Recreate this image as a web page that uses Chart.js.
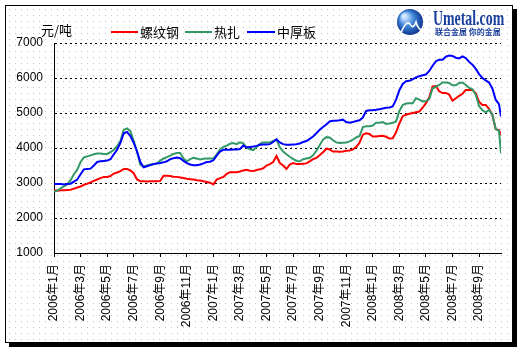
<!DOCTYPE html>
<html><head><meta charset="utf-8">
<script src="https://cdn.jsdelivr.net/npm/chart.js@4"></script>
<style>html,body{margin:0;padding:0;background:#fff;overflow:hidden}canvas{display:block}</style>
</head><body>
<canvas id="c" width="529" height="352"></canvas>
<script>
// month position (0 = 2006年1月), roughly weekly
const monthPos = [
0,0.25,0.5,0.75, 1,1.25,1.5,1.75, 2,2.25,2.5,2.75, 3,3.25,3.5,3.75,
4,4.25,4.5,4.75, 5,5.25,5.5,5.75, 6,6.25,6.5,6.75, 7,7.25,7.5,7.75,
8,8.25,8.5,8.75, 9,9.25,9.5,9.75, 10,10.25,10.5,10.75, 11,11.25,11.5,11.75,
12,12.25,12.5,12.75, 13,13.25,13.5,13.75, 14,14.25,14.5,14.75, 15,15.25,15.5,15.75,
16,16.25,16.5,16.75, 17,17.25,17.5,17.75, 18,18.25,18.5,18.75, 19,19.25,19.5,19.75,
20,20.25,20.5,20.75, 21,21.25,21.5,21.75, 22,22.25,22.5,22.75, 23,23.25,23.5,23.75,
24,24.25,24.5,24.75, 25,25.25,25.5,25.75, 26,26.25,26.5,26.75, 27,27.25,27.5,27.75,
28,28.25,28.5,28.75, 29,29.25,29.5,29.75, 30,30.25,30.5,30.75, 31,31.25,31.5,31.75,
32,32.25,32.5,32.75, 33,33.25,33.5,33.65
];
const tickLabels = ['2006年1月','2006年3月','2006年5月','2006年7月','2006年9月','2006年11月',
'2007年1月','2007年3月','2007年5月','2007年7月','2007年9月','2007年11月',
'2008年1月','2008年3月','2008年5月','2008年7月','2008年9月'];
const seriesNames = ['螺纹钢','热扎','中厚板'];
const rebar = [
2790,2780,2790,2790, 2800,2810,2840,2870, 2900,2950,2980,3020, 3060,3100,3140,3175,
3175,3200,3270,3300, 3340,3400,3400,3360, 3280,3100,3050,3050, 3040,3050,3050,3050,
3060,3210,3210,3200, 3180,3175,3160,3140, 3120,3110,3100,3080, 3070,3050,3030,3010,
2960,3100,3140,3175, 3260,3310,3310,3310, 3330,3360,3380,3350, 3340,3370,3390,3420,
3500,3540,3600,3770, 3570,3500,3400,3530, 3570,3540,3540,3550, 3560,3620,3680,3720,
3790,3880,3980,3960, 3900,3900,3890,3900, 3920,3930,3960,4030, 4150,4380,4420,4400,
4330,4330,4340,4350, 4320,4270,4280,4450, 4700,4910,4950,4980, 5000,5020,5040,5150,
5280,5450,5760,5770, 5620,5570,5570,5530, 5350,5420,5490,5550, 5660,5660,5660,5560,
5320,5230,5230,5120, 4950,4540,4510,4370
];
const hotRolled = [
2750,2780,2850,2900, 2960,3080,3250,3380, 3600,3730,3760,3790, 3820,3840,3840,3830,
3830,3880,3950,4050, 4200,4520,4560,4480, 4200,3900,3520,3470, 3500,3530,3540,3560,
3640,3700,3740,3780, 3830,3860,3860,3700, 3620,3680,3720,3700, 3670,3690,3700,3700,
3700,3820,3960,4030, 4070,4120,4140,4110, 4160,4130,4010,3960, 3940,4030,4120,4160,
4160,4160,4200,4240, 4020,3900,3820,3750, 3690,3630,3620,3680, 3700,3720,3790,3920,
4080,4240,4310,4300, 4220,4160,4140,4150, 4160,4190,4240,4300, 4340,4600,4620,4620,
4640,4720,4720,4740, 4690,4700,4720,4760, 5060,5230,5270,5280, 5280,5420,5380,5330,
5340,5400,5700,5750, 5800,5870,5870,5860, 5790,5790,5860,5870, 5800,5720,5680,5520,
5200,5080,5020,5090, 4950,4540,4490,3850
];
const plate = [
2970,2970,2970,2960, 2970,2980,3040,3100, 3250,3390,3400,3410, 3500,3600,3620,3630,
3640,3680,3820,3950, 4150,4420,4460,4340, 4150,3900,3600,3450, 3480,3510,3540,3560,
3570,3590,3620,3680, 3710,3730,3710,3630, 3570,3530,3510,3510, 3530,3560,3600,3610,
3650,3780,3900,3950, 3950,3950,3960,3960, 3970,4070,4020,4030, 4040,4060,4090,4100,
4100,4110,4170,4250, 4160,4110,4090,4090, 4100,4110,4130,4170, 4200,4260,4330,4420,
4520,4600,4670,4760, 4780,4780,4790,4810, 4740,4720,4740,4770, 4790,4870,5060,5080,
5080,5090,5110,5130, 5150,5160,5190,5380, 5650,5830,5910,5920, 5960,6020,6050,6080,
6100,6200,6350,6480, 6520,6520,6610,6640, 6630,6580,6560,6620, 6570,6460,6380,6260,
6110,6000,5930,5870, 5700,5380,5250,4900
];
const colors = ['#ff0000','#339966','#0000ff'];
const FONT = '"Liberation Sans","Noto Sans CJK SC",sans-serif';
const CJK = '"Noto Sans CJK SC",sans-serif';

const decor = {
  id:'decor',
  beforeDraw(chart){
    const ctx = chart.ctx;
    ctx.save();
    ctx.fillStyle = '#fff';
    ctx.fillRect(0,0,chart.width,chart.height);
    ctx.fillStyle = '#c4c4c4';
    for (let y = 9; y < 342; y += 6) for (let x = 9; x < 512; x += 6) ctx.fillRect(x,y,1,1);
    ctx.fillStyle = '#000';
    ctx.fillRect(513,9,4,338);
    ctx.fillRect(9,343,508,4);
    ctx.strokeStyle = '#000'; ctx.lineWidth = 1;
    ctx.strokeRect(5.5,5.5,507,337);
    ctx.restore();
  },
  afterDraw(chart){
    const ctx = chart.ctx;
    ctx.save();
    // unit title
    ctx.fillStyle = '#000';
    ctx.font = '13px ' + CJK;
    ctx.textBaseline = 'middle';
    ctx.textAlign = 'left';
    ctx.fillText('元/吨', 41, 30);
    // legend
    const pos = [[111,138,140],[185,212,214],[247,275,277]];
    chart.data.datasets.forEach((ds,i)=>{
      const p = pos[i];
      ctx.strokeStyle = ds.borderColor; ctx.lineWidth = 2;
      ctx.beginPath(); ctx.moveTo(p[0],32); ctx.lineTo(p[1],32); ctx.stroke();
      ctx.fillStyle = '#000';
      ctx.fillText(ds.label, p[2], 32);
    });
    // logo
    const g = ctx.createRadialGradient(404,16,2,410,22,14);
    g.addColorStop(0,'#cfe6ff'); g.addColorStop(0.45,'#3f86d8'); g.addColorStop(1,'#0b2f8a');
    ctx.fillStyle = g;
    ctx.beginPath(); ctx.arc(410,22,13,0,Math.PI*2); ctx.fill();
    ctx.strokeStyle = '#fff'; ctx.lineWidth = 1.6;
    ctx.beginPath(); ctx.moveTo(401,33); ctx.quadraticCurveTo(406,20,410,24); ctx.quadraticCurveTo(413,30,416,22); ctx.quadraticCurveTo(418,30,424,31); ctx.stroke();
    ctx.save();
    ctx.translate(433,25); ctx.scale(0.66,1);
    ctx.font = 'bold 21px "Liberation Serif",serif';
    ctx.fillStyle = '#1b3f9e';
    ctx.textBaseline = 'alphabetic';
    ctx.fillText('Umetal.com',0,0);
    ctx.restore();
    ctx.font = 'bold 8px ' + CJK;
    ctx.fillStyle = '#1b3f9e';
    ctx.textBaseline = 'middle';
    ctx.fillText('联合金属 你的金属', 435, 32);
    ctx.restore();
  }
};

const series = [rebar, hotRolled, plate];
new Chart(document.getElementById('c'), {
  type:'line',
  data:{
    datasets: series.map((arr,i)=>({
      label: seriesNames[i],
      data: monthPos.map((x,j)=>({x:x, y:arr[j]})),
      borderColor: colors[i],
      backgroundColor: colors[i],
      borderWidth: 2,
      pointRadius: 0,
      tension: 0,
      fill: false,
      order: 3 - i
    }))
  },
  options:{
    responsive:false,
    animation:false,
    devicePixelRatio:1,
    layout:{padding:{left:0,right:28,top:43,bottom:0}},
    plugins:{legend:{display:false},tooltip:{enabled:false}},
    scales:{
      x:{
        type:'linear', min:0, max:33.65,
        afterFit(s){ s.height = 99; },
        ticks:{stepSize:2, autoSkip:false, includeBounds:false, minRotation:90, maxRotation:90, padding:7,
          color:'#000', font:{size:12, family:FONT},
          callback:(v)=>{ const i = v/2; return (Number.isInteger(i) && tickLabels[i]) ? tickLabels[i] : ''; }},
        grid:{drawOnChartArea:false, drawTicks:true, tickLength:4, color:'#000', lineWidth:1},
        border:{display:true, color:'#000', width:1}
      },
      y:{
        min:1000, max:7000,
        afterFit(s){ s.width = 54; },
        ticks:{stepSize:1000, padding:11, color:'#000', font:{size:12, family:FONT},
          callback:(v)=>String(v)},
        grid:{drawTicks:false, color:'#000', lineWidth:1},
        border:{display:true, color:'#000', width:1, dash:[2,3]}
      }
    }
  },
  plugins:[decor]
});
</script>
</body></html>
